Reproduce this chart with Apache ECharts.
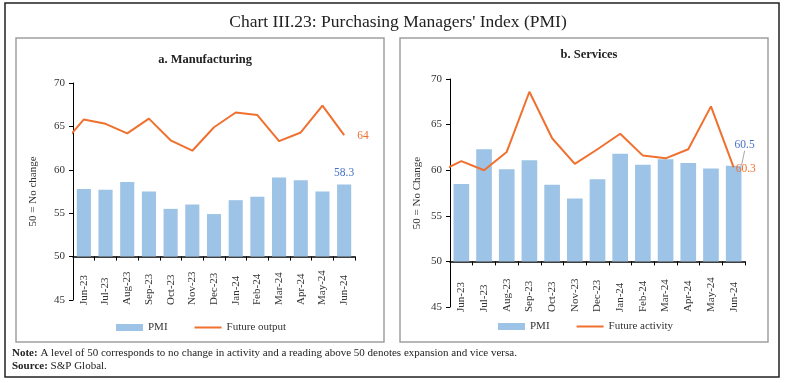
<!DOCTYPE html>
<html>
<head>
<meta charset="utf-8">
<script src="https://cdn.jsdelivr.net/npm/echarts@6/dist/echarts.min.js"></script>
<style>
html,body{margin:0;padding:0;background:#fff;}
#chart{width:786px;height:383px;}
</style>
</head>
<body>
<div id="chart"></div>
<script>
// ---- data ----
const categories = ['Jun-23','Jul-23','Aug-23','Sep-23','Oct-23','Nov-23','Dec-23','Jan-24','Feb-24','Mar-24','Apr-24','May-24','Jun-24'];
// line series include the preceding month (May-23), which is clipped at the axis edge
const lineMonths = ['May-23'].concat(categories);
const mfgPmi = [57.8, 57.7, 58.6, 57.5, 55.5, 56.0, 54.9, 56.5, 56.9, 59.1, 58.8, 57.5, 58.3];
const mfgFutureOutput = [62.9, 65.8, 65.3, 64.2, 65.9, 63.4, 62.2, 64.9, 66.6, 66.3, 63.3, 64.3, 67.4, 64.0];
const svcPmi = [58.5, 62.3, 60.1, 61.1, 58.4, 56.9, 59.0, 61.8, 60.6, 61.2, 60.8, 60.2, 60.5];
const svcFutureActivity = [59.8, 61.0, 60.0, 62.0, 68.6, 63.5, 60.7, 62.3, 64.0, 61.6, 61.3, 62.3, 67.0, 60.3];
const yMin = 45, yMax = 70, yStep = 5, yBase = 50;

const FONT = 'Liberation Serif';
const BAR_COLOR = '#9DC3E6';
const LINE_COLOR = '#F0702F';
const BLUE_LABEL = '#4472C4';

const chart = echarts.init(document.getElementById('chart'), null, {renderer: 'canvas'});

function lineData(vals) {
  return vals.map((v, i) => [i - 1, v]);
}
function lastLabelBar(vals, labelOpt) {
  return vals.map((v, i) => i === vals.length - 1 ? {value: v, label: labelOpt} : v);
}

function valueYAxis(gridIndex, name, nameGap) {
  return {
    type: 'value', gridIndex: gridIndex, min: yMin, max: yMax, interval: yStep, startValue: yBase,
    name: name, nameLocation: 'middle', nameGap: nameGap, nameRotate: 90,
    nameTextStyle: {fontFamily: FONT, fontSize: 11, color: '#333'},
    axisLine: {show: true, onZero: false, lineStyle: {color: '#000', width: 1}},
    axisTick: {show: true, inside: false, length: 4, lineStyle: {color: '#000'}},
    axisLabel: {fontFamily: FONT, fontSize: 11, color: '#333', margin: 8},
    splitLine: {show: false}
  };
}
function hiddenYAxis(gridIndex) {
  // shifted copy of the value axis; used only to place the category axis line at 50
  return {type: 'value', gridIndex: gridIndex, min: yMin - yBase, max: yMax - yBase, show: false,
          axisLine: {onZero: false}, splitLine: {show: false}};
}
function catXAxis(gridIndex, onZeroIdx) {
  return {
    type: 'category', gridIndex: gridIndex, data: categories, boundaryGap: true,
    axisLine: {show: true, onZero: true, onZeroAxisIndex: onZeroIdx, lineStyle: {color: '#000', width: 1.5}},
    axisTick: {show: true, inside: false, length: 4, alignWithLabel: false, lineStyle: {color: '#000'}},
    axisLabel: {fontFamily: FONT, fontSize: 11, color: '#333', rotate: 90, align: 'left', verticalAlign: 'middle', margin: 5, interval: 0},
    splitLine: {show: false}
  };
}
function hiddenXAxis(gridIndex) {
  return {type: 'value', gridIndex: gridIndex, min: -0.5, max: categories.length - 0.5, show: false,
          axisLine: {onZero: false}, splitLine: {show: false}};
}
function endLabel(distance, dy) {
  return {show: true, distance: distance, offset: [0, dy], color: LINE_COLOR, fontFamily: FONT, fontSize: 11.5,
          formatter: p => String(p.value[1])};
}

const option = {
  animation: false,
  backgroundColor: '#fff',
  title: [
    {text: "Chart III.23: Purchasing Managers' Index (PMI)", left: 393, top: 8, textAlign: 'center',
     textStyle: {fontFamily: FONT, fontSize: 17.5, fontWeight: 'normal', color: '#222'}},
    {text: 'a. Manufacturing', left: 200, top: 48, textAlign: 'center',
     textStyle: {fontFamily: FONT, fontSize: 12.5, fontWeight: 'bold', color: '#222'}},
    {text: 'b. Services', left: 584, top: 43, textAlign: 'center',
     textStyle: {fontFamily: FONT, fontSize: 12.5, fontWeight: 'bold', color: '#222'}}
  ],
  grid: [
    {left: 73, top: 83, width: 282, height: 217},
    {left: 450, top: 79, width: 295, height: 228}
  ],
  xAxis: [catXAxis(0, 1), hiddenXAxis(0), catXAxis(1, 3), hiddenXAxis(1)],
  yAxis: [valueYAxis(0, '50 = No change', 34), hiddenYAxis(0), valueYAxis(1, '50 = No Change', 27), hiddenYAxis(1)],
  legend: [
    {left: 111, top: 317, itemWidth: 27, itemHeight: 7, itemGap: 26,
     textStyle: {fontFamily: FONT, fontSize: 11, color: '#333'},
     data: [{name: 'PMI', icon: 'rect'}, {name: 'Future output', itemStyle: {opacity: 0}}]},
    {left: 493, top: 316, itemWidth: 27, itemHeight: 7, itemGap: 26,
     textStyle: {fontFamily: FONT, fontSize: 11, color: '#333'},
     data: [{name: 'PMI', icon: 'rect'}, {name: 'Future activity', itemStyle: {opacity: 0}}]}
  ],
  series: [
    {name: 'PMI', type: 'bar', xAxisIndex: 0, yAxisIndex: 0, barCategoryGap: '35%',
     itemStyle: {color: BAR_COLOR},
     data: lastLabelBar(mfgPmi, {show: true, position: 'top', distance: 6, color: BLUE_LABEL, fontFamily: FONT, fontSize: 11.5})},
    {name: 'Future output', type: 'line', xAxisIndex: 1, yAxisIndex: 0, symbol: 'none', clip: true,
     lineStyle: {color: LINE_COLOR, width: 2}, itemStyle: {color: LINE_COLOR},
     endLabel: endLabel(13, 1),
     data: lineData(mfgFutureOutput)},
    {name: 'PMI', type: 'bar', xAxisIndex: 2, yAxisIndex: 2, barCategoryGap: '31%',
     itemStyle: {color: BAR_COLOR},
     labelLine: {show: true, lineStyle: {color: '#A6A6A6', width: 1}},
     labelLayout: function (p) { return p.dataIndex === svcPmi.length - 1 ? {dx: 11, dy: -10} : {}; },
     data: lastLabelBar(svcPmi, {show: true, position: 'top', distance: 5, color: BLUE_LABEL, fontFamily: FONT, fontSize: 11.5})},
    {name: 'Future activity', type: 'line', xAxisIndex: 3, yAxisIndex: 2, symbol: 'none', clip: true,
     lineStyle: {color: LINE_COLOR, width: 2}, itemStyle: {color: LINE_COLOR}, z: 5,
     endLabel: endLabel(2, 2),
     data: lineData(svcFutureActivity)}
  ],
  graphic: [
    {type: 'rect', shape: {x: 5, y: 3, width: 774, height: 374}, style: {fill: 'none', stroke: '#222', lineWidth: 1.5}, z: -10},
    {type: 'rect', shape: {x: 16, y: 38, width: 368, height: 304}, style: {fill: 'none', stroke: '#A0A0A0', lineWidth: 1.5}, z: -10},
    {type: 'rect', shape: {x: 400, y: 38, width: 368, height: 304}, style: {fill: 'none', stroke: '#A0A0A0', lineWidth: 1.5}, z: -10},
    {type: 'text', left: 12, top: 348, style: {
      text: '{b|Note:} A level of 50 corresponds to no change in activity and a reading above 50 denotes expansion and vice versa.',
      rich: {b: {fontWeight: 'bold', fontFamily: FONT, fontSize: 11, fill: '#222'}},
      fontFamily: FONT, fontSize: 11, fill: '#222'}},
    {type: 'text', left: 12, top: 361, style: {
      text: '{b|Source:} S&P Global.',
      rich: {b: {fontWeight: 'bold', fontFamily: FONT, fontSize: 11, fill: '#222'}},
      fontFamily: FONT, fontSize: 11, fill: '#222'}}
  ]
};
chart.setOption(option);
</script>
</body>
</html>
